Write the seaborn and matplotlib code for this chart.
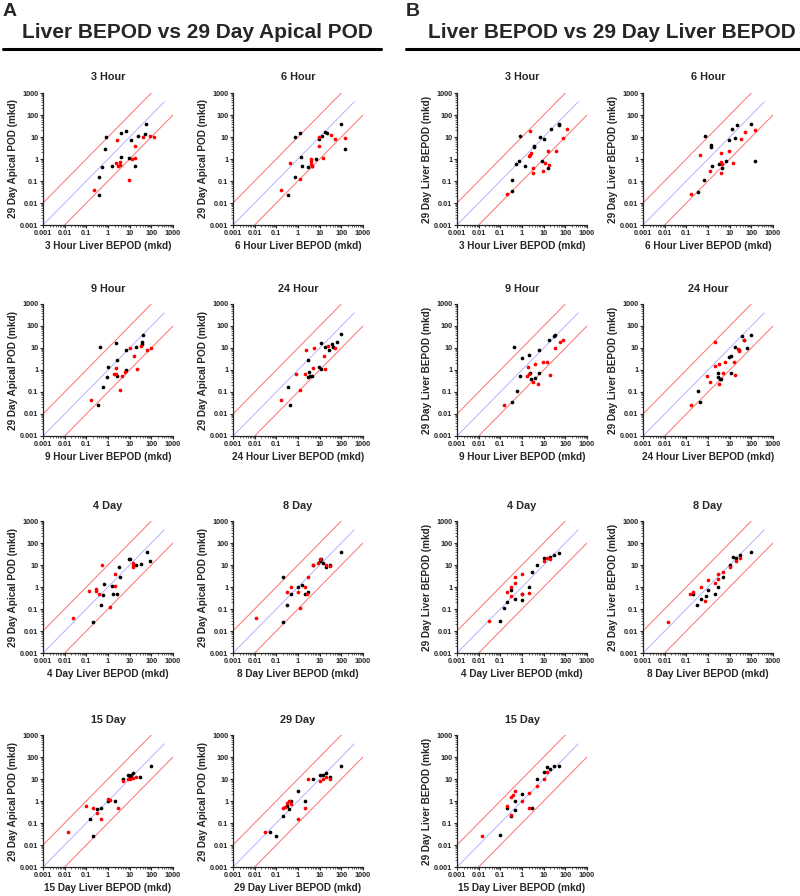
import matplotlib.pyplot as plt
import seaborn as sns
import pandas as pd
from matplotlib.lines import Line2D
from matplotlib.ticker import FixedLocator, FixedFormatter, LogLocator, NullFormatter

# ---- data: (liver BEPOD, 29 day POD) pairs, in mkd ----
A_3H_BLACK = [(0.83, 10), (0.76, 2.8), (0.55, 0.44), (0.38, 0.15), (0.38, 0.022), (1.5, 0.5),
              (3.8, 16), (7, 18), (3.8, 1.2), (9, 1.07), (12, 7.6), (18, 0.48), (24, 11), (50, 14), (56, 40)]
A_3H_RED = [(0.22, 0.04), (2.6, 7.6), (2.4, 0.63), (2.9, 0.47), (3.4, 0.7), (3.4, 0.55), (9.5, 0.115),
            (12.6, 1.0), (17, 3.8), (18, 1.1), (40, 10), (90, 11.5), (126, 9.5)]

A_6H_BLACK = [(0.72, 10.5), (1.3, 16), (1.4, 1.2), (1.6, 0.5), (0.7, 0.16), (0.33, 0.023), (3.0, 0.44),
              (7, 1.0), (9.3, 8), (13, 11), (18, 17), (22, 15), (100, 39), (150, 3), (4.3, 0.47)]
A_6H_RED = [(0.17, 0.04), (0.43, 0.63), (1.2, 0.12), (3.8, 1.0), (4, 0.8), (4, 0.6), (4.2, 0.47),
            (9, 3.9), (9.3, 10), (15, 1.07), (35, 12), (52, 8), (148, 9.4)]

A_9H_BLACK = [(0.45, 10.7), (2.4, 17), (2.6, 2.9), (1.0, 1.3), (0.87, 0.47), (0.6, 0.17), (0.36, 0.025),
              (2.7, 0.51), (6.8, 1.05), (6.6, 8.3), (19, 11.5), (37, 15), (37, 19), (40, 40)]
A_9H_RED = [(0.16, 0.042), (1.9, 0.66), (2.3, 0.65), (2.4, 1.2), (3.5, 0.12), (4.4, 0.51), (6.3, 0.83),
            (10.5, 9.5), (16.6, 4.2), (22, 1.1), (35, 12.5), (60, 8.3), (93, 9.6)]

A_24H_BLACK = [(11, 17), (17, 11), (27, 8.2), (36, 16), (41, 11.4), (63, 19.5), (100, 42), (2.8, 3),
               (3.2, 0.83), (2.9, 0.48), (3.7, 0.53), (4.3, 0.53), (9, 1.4), (12, 1.07), (0.36, 0.17),
               (0.44, 0.026)]
A_24H_RED = [(0.16, 0.044), (0.83, 0.66), (1.23, 0.12), (2.0, 0.66), (2.3, 8.3), (4.9, 1.2), (5.6, 10.5),
             (16, 4.4), (18, 1.1), (23, 12.5), (49, 10)]

A_4D_BLACK = [(9.6, 18), (10, 19), (63, 40), (87, 16), (33, 11), (19, 10), (3.2, 8), (3.7, 3), (0.66, 1.3),
              (1.5, 1.07), (0.6, 0.45), (1.7, 0.5), (2.6, 0.5), (0.2, 0.025), (0.5, 0.15)]
A_4D_RED = [(0.52, 10), (14, 12.6), (14.5, 10), (14, 8.5), (2.0, 4), (2.0, 1.07), (0.13, 0.66),
            (0.28, 0.8), (0.28, 0.63), (0.38, 0.5), (0.025, 0.04), (1.2, 0.12)]

A_8D_BLACK = [(0.2, 3), (0.2, 0.025), (0.3, 0.15), (0.5, 0.5), (1, 1), (2, 0.5), (3, 0.6), (5, 10),
              (10, 15), (15, 12), (20, 8), (30, 10), (100, 40), (1.5, 1.2), (12, 18)]
A_8D_RED = [(0.012, 0.04), (0.3, 0.6), (0.5, 1), (1, 0.6), (2, 1), (3, 3), (5, 10), (8, 12), (10, 18),
            (20, 10), (30, 9), (2.5, 0.47), (1.2, 0.115)]

A_15D_BLACK = [(0.15, 0.15), (0.2, 0.025), (0.5, 0.5), (1, 1), (2, 1), (5, 10), (8, 15), (10, 12),
               (15, 18), (30, 12), (100, 40), (0.3, 0.44), (12, 16)]
A_15D_RED = [(0.015, 0.04), (0.1, 0.6), (0.2, 0.5), (0.3, 0.3), (0.5, 0.15), (1, 1.2), (3, 0.5), (5, 8),
             (8, 10), (10, 10), (20, 12), (1.2, 1.1), (15, 11.5)]

A_29D_BLACK = [(0.05, 0.04), (0.2, 0.2), (0.3, 0.6), (0.5, 1), (1, 3), (2, 1), (5, 10), (10, 15),
               (20, 18), (30, 12), (100, 40), (0.1, 0.025), (0.4, 0.44), (15, 16)]
A_29D_RED = [(0.03, 0.04), (0.2, 0.5), (0.3, 0.8), (0.4, 1), (0.5, 0.7), (1, 0.15), (2, 0.5), (3, 10),
             (10, 8), (20, 12), (30, 10), (0.25, 0.55), (15, 9.5)]

B_3H_BLACK = [(0.78, 11.5), (0.51, 0.57), (0.7, 0.8), (1.4, 0.47), (0.35, 0.11), (0.35, 0.035), (3.5, 4),
              (3.5, 3.5), (6.6, 10), (10.5, 8), (8.7, 0.8), (16, 0.4), (22, 24), (49, 35), (50, 37)]
B_3H_RED = [(2.4, 19.5), (0.21, 0.025), (2.4, 1.6), (2.7, 1.9), (2.2, 1.4), (3.2, 0.38), (3.2, 0.23),
            (9, 0.3), (12, 0.63), (16, 2.3), (17, 0.54), (38, 2.3), (78, 8.7), (120, 23)]

B_6H_BLACK = [(0.72, 11.5), (1.4, 4.3), (1.4, 3.6), (0.68, 0.11), (0.33, 0.032), (1.6, 0.47), (3.1, 0.58),
              (4.4, 0.38), (7, 0.8), (9, 7.5), (13, 24), (18, 9.4), (22, 35), (93, 38), (152, 0.8)]
B_6H_RED = [(0.17, 0.025), (0.43, 1.5), (1.3, 0.3), (3.8, 1.9), (3.9, 0.75), (4.2, 0.58), (4, 0.23),
            (9, 2.4), (15, 0.63), (35, 8.1), (51, 17), (148, 21)]

B_9H_BLACK = [(0.43, 11.5), (1.0, 3.6), (2.2, 4.6), (6, 8), (18, 24), (31, 34), (34, 38), (0.83, 0.53),
              (2.3, 0.71), (2.7, 0.39), (4.1, 0.45), (6.3, 0.71), (0.56, 0.107), (0.33, 0.035)]
B_9H_RED = [(0.15, 0.025), (1.9, 1.4), (1.65, 0.53), (2.2, 0.67), (4.1, 1.8), (3.3, 0.28), (5.6, 0.23),
            (9.5, 2.3), (15, 2.2), (20, 0.6), (32, 9.6), (55, 19), (81, 23)]

B_24H_BLACK = [(37, 34), (96, 38), (45, 24), (63, 10), (17, 11.5), (26, 8.1), (9, 3.8), (11, 4.5),
               (2.8, 0.7), (2.9, 0.5), (3.5, 0.41), (4.0, 0.38), (12, 0.76), (0.35, 0.11), (0.45, 0.034)]
B_24H_RED = [(0.16, 0.026), (2.2, 19.5), (0.87, 0.55), (1.2, 0.29), (2.0, 1.5), (3.3, 1.9), (4.9, 0.71),
             (3.2, 0.24), (5.9, 2.2), (16, 2.2), (18, 0.58), (23, 9.4), (27, 7.6), (46, 24)]

B_4D_BLACK = [(0.1, 0.03), (0.2, 0.2), (0.3, 0.7), (0.5, 0.3), (1, 0.5), (2, 1), (3, 5), (5, 10), (10, 20),
              (30, 30), (50, 35), (1, 0.25), (0.15, 0.11), (20, 24)]
B_4D_RED = [(0.03, 0.03), (0.2, 0.6), (0.3, 1), (0.5, 1.5), (0.5, 3), (1, 4), (1, 0.5), (10, 15),
            (15, 20), (20, 18), (0.3, 0.38), (2, 0.54)]

B_8D_BLACK = [(0.2, 0.5), (0.3, 0.15), (0.5, 0.3), (1, 0.7), (2, 0.5), (3, 1), (5, 3), (10, 10), (20, 20),
              (30, 30), (100, 40), (0.8, 0.4), (15, 24)]
B_8D_RED = [(0.015, 0.025), (0.15, 0.5), (0.2, 0.6), (0.5, 1), (1, 2), (2, 1.5), (3, 4), (5, 5), (10, 8),
            (20, 15), (30, 20), (0.7, 0.23), (3, 2.3)]

B_15D_BLACK = [(0.1, 0.03), (0.2, 0.5), (0.3, 0.2), (0.5, 1), (1, 2), (3, 0.5), (5, 10), (10, 20),
               (20, 30), (50, 40), (0.5, 0.4), (15, 35), (30, 37)]
B_15D_RED = [(0.015, 0.025), (0.2, 0.6), (0.3, 1.5), (0.5, 3), (1, 1), (2, 0.5), (5, 5), (10, 10),
             (15, 20), (0.3, 0.23), (2, 2.3), (0.4, 1.9)]

TICKS = [0.001, 0.01, 0.1, 1, 10, 100, 1000]
TICK_LABELS = ['0.001', '0.01', '0.1', '1', '10', '100', '1000']

# reference lines: 1:1 and +/- 10 fold
UNITY_X = [0.001, 400]
UPPER_X = [0.001, 100]
LOWER_X = [0.01, 1000]

PANEL_A = [('3 Hour', A_3H_BLACK, A_3H_RED), ('6 Hour', A_6H_BLACK, A_6H_RED),
           ('9 Hour', A_9H_BLACK, A_9H_RED), ('24 Hour', A_24H_BLACK, A_24H_RED),
           ('4 Day', A_4D_BLACK, A_4D_RED), ('8 Day', A_8D_BLACK, A_8D_RED),
           ('15 Day', A_15D_BLACK, A_15D_RED), ('29 Day', A_29D_BLACK, A_29D_RED)]
PANEL_B = [('3 Hour', B_3H_BLACK, B_3H_RED), ('6 Hour', B_6H_BLACK, B_6H_RED),
           ('9 Hour', B_9H_BLACK, B_9H_RED), ('24 Hour', B_24H_BLACK, B_24H_RED),
           ('4 Day', B_4D_BLACK, B_4D_RED), ('8 Day', B_8D_BLACK, B_8D_RED),
           ('15 Day', B_15D_BLACK, B_15D_RED)]

sns.set_style('ticks')
plt.rcParams['font.family'] = ['Liberation Sans', 'DejaVu Sans']
plt.rcParams['font.weight'] = 'bold'

W, H = 800, 896
fig = plt.figure(figsize=(W / 100, H / 100), dpi=100)

COL_LEFT = {'A': [43, 233], 'B': [457, 643]}
ROW_TOP = [93, 304, 521, 735]
AX_W, AX_H = 130, 132


def draw_scatter(ax, title, xlabel, ylabel, black, red):
    ax.set_xscale('log')
    ax.set_yscale('log')

    ax.plot(UNITY_X, UNITY_X, color='#a8a8ff', lw=0.6)
    ax.plot(UPPER_X, [10 * x for x in UPPER_X], color='#ff7070', lw=0.7)
    ax.plot(LOWER_X, [x / 10 for x in LOWER_X], color='#ff7070', lw=0.7)

    df_black = pd.DataFrame(black, columns=['x', 'y'])
    df_red = pd.DataFrame(red, columns=['x', 'y'])
    sns.scatterplot(data=df_black, x='x', y='y', color='black', s=7, linewidth=0, ax=ax, zorder=3)
    sns.scatterplot(data=df_red, x='x', y='y', color='#ff0000', s=7, linewidth=0, ax=ax, zorder=3)

    ax.set_xlim(0.001, 1000)
    ax.set_ylim(0.001, 1000)
    for axis in (ax.xaxis, ax.yaxis):
        axis.set_major_locator(FixedLocator(TICKS))
        axis.set_major_formatter(FixedFormatter(TICK_LABELS))
        axis.set_minor_locator(LogLocator(base=10, subs=range(2, 10), numticks=20))
        axis.set_minor_formatter(NullFormatter())
    ax.tick_params(which='major', length=2.5, width=0.8, labelsize=5.3, pad=1)
    ax.tick_params(which='minor', length=1.3, width=0.5)
    for lab in ax.get_xticklabels() + ax.get_yticklabels():
        lab.set_fontweight('bold')

    sns.despine(ax=ax)
    for sp in ('left', 'bottom'):
        ax.spines[sp].set_linewidth(0.9)

    ax.set_title(title, fontsize=7.8, fontweight='bold', pad=9)
    ax.set_xlabel(xlabel, fontsize=7.2, fontweight='bold', labelpad=3)
    ax.set_ylabel(ylabel, fontsize=7.2, fontweight='bold', labelpad=1.5)


for panel, entries, ylabel in (('A', PANEL_A, '29 Day Apical POD (mkd)'),
                               ('B', PANEL_B, '29 Day Liver BEPOD (mkd)')):
    for i, (title, black, red) in enumerate(entries):
        row, col = divmod(i, 2)
        left = COL_LEFT[panel][col]
        top = ROW_TOP[row]
        ax = fig.add_axes([left / W, 1 - (top + AX_H) / H, AX_W / W, AX_H / H])
        draw_scatter(ax, title, f'{title} Liver BEPOD (mkd)', ylabel, black, red)

# panel headers
fig.text(3 / W, 1 - 12 / H, 'A', fontsize=14, fontweight='bold', va='center', ha='left')
fig.text(197 / W, 1 - 33 / H, 'Liver BEPOD vs 29 Day Apical POD', fontsize=15, fontweight='bold',
         va='center', ha='center')
fig.add_artist(Line2D([3 / W, 381 / W], [1 - 49 / H, 1 - 49 / H], color='black', lw=2.2))

fig.text(406 / W, 1 - 12 / H, 'B', fontsize=14, fontweight='bold', va='center', ha='left')
fig.text(612 / W, 1 - 33 / H, 'Liver BEPOD vs 29 Day Liver BEPOD', fontsize=15, fontweight='bold',
         va='center', ha='center')
fig.add_artist(Line2D([406 / W, 800 / W], [1 - 49 / H, 1 - 49 / H], color='black', lw=2.2))

fig.savefig('out.png', dpi=100)
plt.close(fig)
